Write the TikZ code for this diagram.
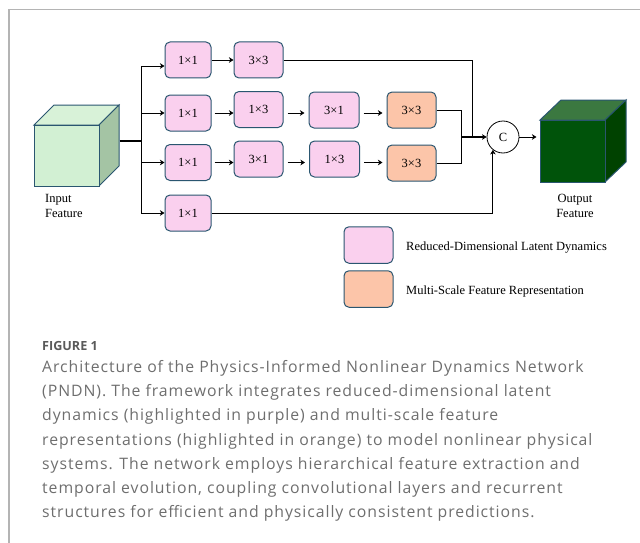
\documentclass[tikz,border=0pt]{standalone}
\usepackage{fontspec}
\setmainfont{Liberation Serif}
\newfontfamily\capfont{Open Sans}
\newfontfamily\capbody{Open Sans}[LetterSpace=6]
\usetikzlibrary{calc,arrows.meta}

\definecolor{boxpink}{HTML}{FAD0EE}
\definecolor{boxpeach}{HTML}{FCC5A9}
\definecolor{edgeteal}{HTML}{2A5670}
\definecolor{inlight}{HTML}{D2F0D3}
\definecolor{intop}{HTML}{D8F2D8}
\definecolor{inshade}{HTML}{A4C4A4}
\definecolor{outgreen}{HTML}{00530A}
\definecolor{outtop}{HTML}{3B7840}
\definecolor{outshade}{HTML}{004200}
\definecolor{framegray}{HTML}{B4B4B4}
\definecolor{capgray}{HTML}{6E6E6E}
\definecolor{fignogray}{HTML}{5A5A5A}

\begin{document}
\begin{tikzpicture}[x=1pt, y=-1pt, font=\fontsize{12.5}{15}\selectfont,
  >={Stealth[length=4.5pt, width=5.5pt, inset=1.2pt]},
  lat/.style = {draw=edgeteal, fill=boxpink, rounded corners=5pt, line width=1pt, minimum height=36pt},
  msf/.style = {lat, fill=boxpeach},
  link/.style = {line width=0.9pt}]
\useasboundingbox (0,0) rectangle (640,543);
\draw[framegray, line width=1.3pt] (9,543) -- (9,9.3) -- (640,9.3);

% input cube
\draw[edgeteal, fill=intop, line width=1pt] (34,125) -- (54,105) -- (119,105) -- (99,125) -- cycle;
\draw[edgeteal, fill=inshade, line width=1pt] (99,125) -- (119,105) -- (119,166) -- (99,186) -- cycle;
\node[draw=edgeteal, fill=inlight, line width=1pt, minimum width=65pt, minimum height=61pt, inner sep=0] (infront) at (66.5,155.5) {};
\node[anchor=north west, align=left, inner sep=0] (inlabel) at (45,194) {Input\\Feature};

% branches
\node[lat, minimum width=46pt] (r1a) at (188,60) {1×1};
\node[lat, minimum width=49pt] (r1b) at (258.5,60) {3×3};
\node[lat, minimum width=46pt] (r2a) at (188,113) {1×1};
\node[lat, minimum width=49pt] (r2b) at (258.5,109.5) {1×3};
\node[lat, minimum width=50pt] (r2c) at (334,110) {3×1};
\node[msf, minimum width=49pt] (r2d) at (411.5,110) {3×3};
\node[lat, minimum width=46pt] (r3a) at (188,162.5) {1×1};
\node[lat, minimum width=49pt] (r3b) at (258.5,159) {3×1};
\node[lat, minimum width=50pt] (r3c) at (334.5,159) {1×3};
\node[msf, minimum width=49pt] (r3d) at (411.5,163) {3×3};
\node[lat, minimum width=46pt] (r4a) at (188,213) {1×1};

% concat and output cube
\node[draw, circle, minimum size=32pt, inner sep=0, line width=0.8pt] (cat) at (503,137) {C};
\draw[edgeteal, fill=outtop, line width=1pt] (540,120) -- (561,100) -- (626,100) -- (605,120) -- cycle;
\draw[edgeteal, fill=outshade, line width=1pt] (605,120) -- (626,100) -- (626,162) -- (605,182) -- cycle;
\node[draw=edgeteal, fill=outgreen, line width=1pt, minimum width=65pt, minimum height=62pt, inner sep=0] (outfront) at (572.5,151) {};
\node[anchor=north, align=center, inner sep=0] (outlabel) at (575,194) {Output\\Feature};

\coordinate (inport) at (119.5,141);
\coordinate (split) at (141,141);
\coordinate (mrg) at (461,137);
\coordinate (j1) at (472,137);

\draw[line width=2pt] (inport) -- (split);
\draw[link,->] (split) |- ([yshift=-6pt]r1a.west);
\draw[link,->] (split) |- (r2a.west);
\draw[link,->] (split) |- (r3a.west);
\draw[link,->] (split) |- (r4a.west);

\draw[link,->] (r1a) -- (r1b);
\draw[link,->, shorten <=3pt] (r2a.east) -- (r2b.west |- r2a.east);
\draw[link,->, shorten <=4pt, shorten >=4pt] (r2b.east |- r2a.east) -- (r2c.west |- r2a.east);
\draw[link,->, shorten <=4pt, shorten >=4pt] (r2c.east |- r2a.east) -- (r2d.west |- r2a.east);
\draw[link,->, shorten <=3pt] (r3a.east) -- (r3b.west |- r3a.east);
\draw[link,->, shorten <=4pt, shorten >=4pt] (r3b.east |- r3a.east) -- (r3c.west |- r3a.east);
\draw[link,->, shorten <=4pt, shorten >=4pt] (r3c.east |- r3a.east) -- (r3d.west |- r3a.east);

\draw[link] (r1b.east) -| (j1);
\draw[link] (r2d.east) -| (mrg);
\draw[link] (r3d.east) -| (mrg);
\draw[->, line width=1.6pt] (mrg) -- (cat.west);
\draw[link,->] (r4a.east) -| (cat.-128);
\draw[link,->, shorten >=3pt] (cat.east) -- (outfront.west |- cat.east);

% legend
\node[lat, minimum width=49pt, minimum height=36.5pt] (keylat) at (368.5,245) {};
\node[msf, minimum width=49pt, minimum height=36.5pt] (keymsf) at (368.5,289) {};
\node[anchor=base west, inner sep=0] (keylattxt) at (406,250.7) {Reduced-Dimensional Latent Dynamics};
\node[anchor=base west, inner sep=0] (keymsftxt) at (406,294) {Multi-Scale Feature Representation};

% caption
\node[anchor=base west, inner sep=0, text=fignogray, font=\capfont\bfseries\fontsize{12.6}{15}\selectfont] (figno) at (42,350.7) {FIGURE 1};
\node[anchor=north west, inner sep=0, align=left, text=capgray, font=\capbody\fontsize{15.8}{24.1}\selectfont] (caption) at (42,360.5) {Architecture of the Physics-Informed Nonlinear Dynamics Network\\
(PNDN). The framework integrates reduced-dimensional latent\\
dynamics (highlighted in purple) and multi-scale feature\\
representations (highlighted in orange) to model nonlinear physical\\
systems. The network employs hierarchical feature extraction and\\
temporal evolution, coupling convolutional layers and recurrent\\
structures for efficient and physically consistent predictions.};
\end{tikzpicture}
\end{document}
